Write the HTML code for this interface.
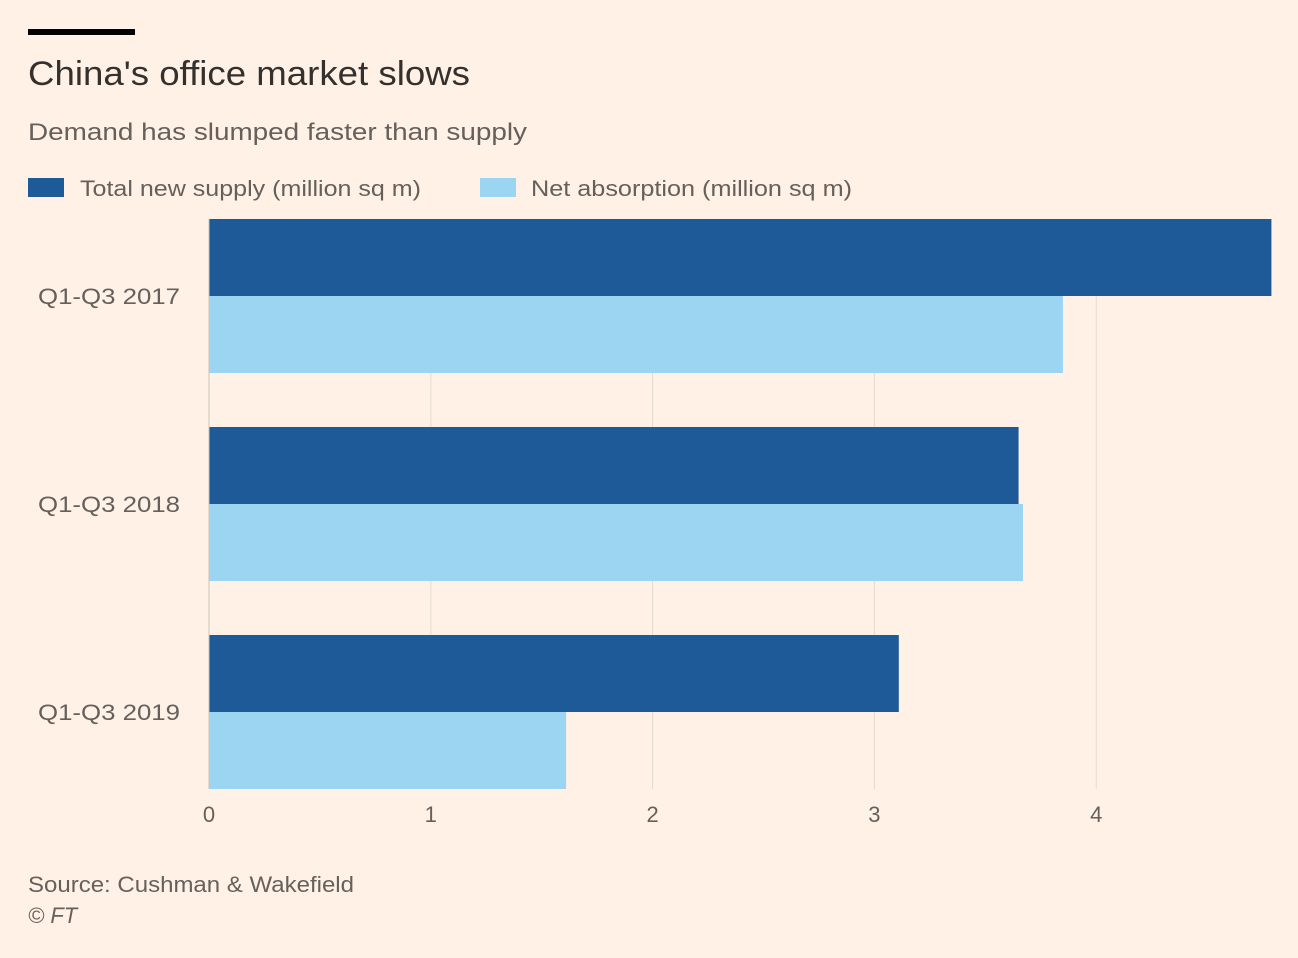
<!DOCTYPE html>
<html><head><meta charset="utf-8"><style>
body{margin:0;background:#fff1e5;}
svg{display:block;font-family:"Liberation Sans",sans-serif;}
</style></head><body>
<svg width="1298" height="958" viewBox="0 0 1298 958">
<rect x="0" y="0" width="1298" height="958" fill="#fff1e5"/>
<rect x="28" y="29" width="107" height="6" fill="#000"/>
<text x="28" y="85" font-size="34" fill="#33302e" textLength="442" lengthAdjust="spacingAndGlyphs">China's office market slows</text>
<text x="28" y="140" font-size="24" fill="#66605c" textLength="499" lengthAdjust="spacingAndGlyphs">Demand has slumped faster than supply</text>
<g>
<rect x="28" y="178" width="36" height="19" fill="#1e5a97"/>
<text x="80" y="196" font-size="22" fill="#66605c" textLength="341" lengthAdjust="spacingAndGlyphs">Total new supply (million sq m)</text>
<rect x="480" y="178" width="36" height="19" fill="#9cd5f2"/>
<text x="531" y="196" font-size="22" fill="#66605c" textLength="321" lengthAdjust="spacingAndGlyphs">Net absorption (million sq m)</text>
</g>
<g id="plot"></g>
<text x="28" y="892" font-size="22" fill="#66605c" textLength="326" lengthAdjust="spacingAndGlyphs">Source: Cushman &amp; Wakefield</text>
<text x="28" y="923" font-size="22" font-style="italic" fill="#66605c">© FT</text>
</svg>
<script>
const categories=["Q1-Q3 2017","Q1-Q3 2018","Q1-Q3 2019"];
const supply=[4.79,3.65,3.11];
const absorption=[3.85,3.67,1.61];
const ticks=[0,1,2,3,4];
const ns="http://www.w3.org/2000/svg";
const g=document.getElementById("plot");
const x0=209,pxPer=221.8,top0=219,groupStep=208,barH=77,plotBottom=789;
const xs=v=>x0+v*pxPer;
function mk(tag,attrs){const e=document.createElementNS(ns,tag);for(const k in attrs)e.setAttribute(k,attrs[k]);g.appendChild(e);return e;}
ticks.forEach(t=>{
  if(t>0){const l=mk("line",{x1:xs(t),x2:xs(t),y1:top0,y2:plotBottom,stroke:"#e6d9ce","stroke-width":1});
  
  }
  const tx=mk("text",{x:xs(t),y:822,"font-size":22,fill:"#66605c","text-anchor":"middle"});
  tx.textContent=t;
  
  
});
categories.forEach((c,i)=>{
  const y=top0+i*groupStep;
  const b1=mk("rect",{x:x0,y:y,width:xs(supply[i])-x0,height:barH,fill:"#1e5a97"});
  
  
  const b2=mk("rect",{x:x0,y:y+barH,width:xs(absorption[i])-x0,height:barH,fill:"#9cd5f2"});
  
  
  const lb=mk("text",{x:180,y:y+barH+8,"font-size":22,fill:"#66605c","text-anchor":"end",textLength:142,lengthAdjust:"spacingAndGlyphs"});
  lb.textContent=c;
  
  
});
const ax=mk("line",{x1:x0,x2:x0,y1:top0,y2:plotBottom,stroke:"#ccc1b7","stroke-width":1});


</script>
</body></html>
